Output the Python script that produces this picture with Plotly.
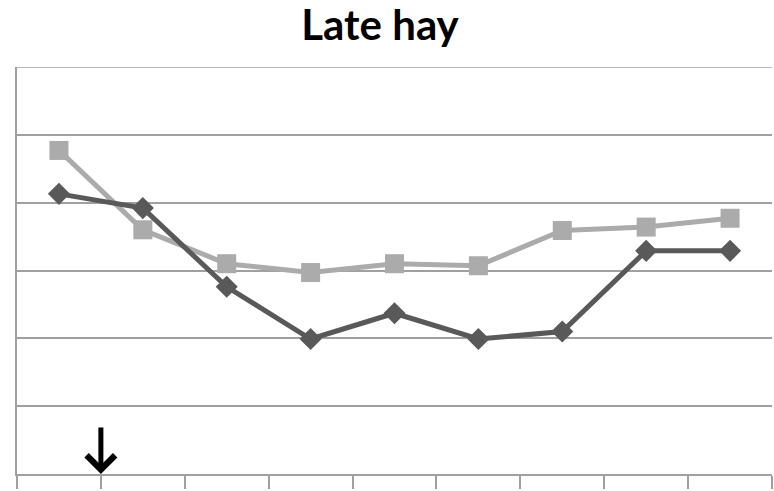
import plotly.graph_objects as go

categories = [1, 2, 3, 4, 5, 6, 7, 8, 9]
light_series = [47.7, 36.0, 31.0, 29.7, 31.0, 30.7, 35.9, 36.4, 37.7]
dark_series = [41.3, 39.2, 27.6, 19.9, 23.7, 19.9, 21.0, 32.9, 32.9]
boundary_ticks = [0.5, 1.5, 2.5, 3.5, 4.5, 5.5, 6.5, 7.5, 8.5, 9.5]
grid_values = [10, 20, 30, 40, 50, 60]
y_max = 60
arrow_x = 1.5

fig = go.Figure()
fig.add_trace(go.Scatter(
    x=categories, y=light_series, mode="lines+markers",
    line=dict(color="#ABABAB", width=5),
    marker=dict(symbol="square", size=19, color="#ABABAB"),
    showlegend=False,
))
fig.add_trace(go.Scatter(
    x=categories, y=dark_series, mode="lines+markers",
    line=dict(color="#595959", width=5),
    marker=dict(symbol="diamond", size=17, color="#595959"),
    showlegend=False,
))

fig.add_annotation(
    x=arrow_x, y=0, xref="x", yref="y", ax=0, ay=-48,
    showarrow=True, arrowhead=4, arrowsize=1.1, arrowwidth=5,
    arrowcolor="black", text="",
)

# top gridline (plotly drops gridlines that sit on the range edge)
fig.add_shape(type="line", xref="paper", yref="y", x0=0, x1=1, y0=y_max, y1=y_max,
              line=dict(color="#A0A0A0", width=1.5), layer="below")

fig.update_layout(
    width=774, height=491,
    margin=dict(l=17, r=2, t=67, b=17),
    paper_bgcolor="white", plot_bgcolor="white",
    title=dict(text="<b>Late hay</b>", x=0.491, xanchor="center",
               y=0.948, yanchor="middle", yref="container",
               font=dict(family="Lato", size=42, color="black")),
    xaxis=dict(range=[0.5, 9.5], tickmode="array", tickvals=boundary_ticks,
               showticklabels=False, ticks="outside", ticklen=13, tickwidth=1.5,
               tickcolor="#A0A0A0", showgrid=False, showline=True,
               linecolor="#A0A0A0", linewidth=1.5, zeroline=False, fixedrange=True),
    yaxis=dict(range=[0, y_max], tickmode="array", tickvals=grid_values,
               showticklabels=False, ticks="",
               showgrid=True, gridcolor="#A0A0A0", gridwidth=1.5,
               showline=True, linecolor="#A0A0A0", linewidth=1.5,
               zeroline=False, fixedrange=True),
)

fig.write_html("out.html", config={"displayModeBar": False},
               post_script="document.body.style.margin='0';")
